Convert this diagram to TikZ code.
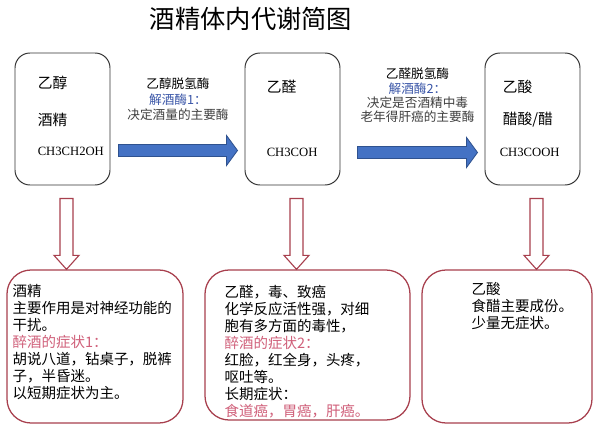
\documentclass[tikz,border=0pt]{standalone}
\usepackage{fontspec}
\setmainfont{Liberation Serif}
\newfontfamily\cjk{Noto Sans CJK SC}
\usepackage{xcolor}
\usetikzlibrary{calc}

\definecolor{arrowblue}{HTML}{4472C4}
\definecolor{arrowedge}{HTML}{2F528F}
\definecolor{enzymeblue}{HTML}{3A56A8}
\definecolor{boxred}{HTML}{A8404E}
\definecolor{warnred}{HTML}{D0607A}

% horizontal block arrow from #1 to tip #2
\newcommand{\hblockarrow}[2]{%
  \draw[blockarrow] ($(#1)+(0,-6)$) -- ($(#2)+(-11,-6)$) -- ($(#2)+(-11,-15)$) -- (#2)
    -- ($(#2)+(-11,15)$) -- ($(#2)+(-11,6)$) -- ($(#1)+(0,6)$) -- cycle;}
% hollow down arrow from #1 to tip #2
\newcommand{\vblockarrow}[2]{%
  \draw[hollowarrow] ($(#1)+(-6.5,0)$) -- ($(#2)+(-6.5,-14)$) -- ($(#2)+(-12.5,-14)$) -- (#2)
    -- ($(#2)+(12.5,-14)$) -- ($(#2)+(6.5,-14)$) -- ($(#1)+(6.5,0)$) -- cycle;}

\begin{document}
\begin{tikzpicture}[x=0.25mm, y=-0.25mm,
    topbox/.style={draw=black!80, line width=0.7pt, rounded corners=3.75mm,
      minimum width=23.75mm, minimum height=33mm, inner sep=0pt},
    effectbox/.style={draw=boxred, line width=0.9pt, rounded corners=6mm, inner sep=0pt},
    chem/.style={anchor=west, inner sep=0pt, font=\cjk\fontsize{10.5}{12}\selectfont},
    formula/.style={anchor=west, inner sep=0pt, font=\fontsize{9}{11}\selectfont},
    enzyme/.style={align=center, inner sep=0pt, text=black!75},
    bodytext/.style={align=left, anchor=north west, inner sep=0pt,
      font=\cjk\fontsize{10.3}{12}\selectfont},
    blockarrow/.style={fill=arrowblue, draw=arrowedge, line width=0.6pt},
    hollowarrow/.style={fill=white, draw=boxred, line width=0.8pt}]

    % Canvas
    \fill[white] (0,0) rectangle (600,433);
    \useasboundingbox (0,0) rectangle (600,433);

    % Title
    \node[font=\cjk\fontsize{18}{20}\selectfont] (title) at (251,19) {酒精体内代谢简图};

    % Substances
    \node[topbox] (t1) at (62.5,119) {};
    \node[topbox] (t2) at (292.5,119) {};
    \node[topbox] (t3) at (532.5,119) {};

    \node[chem] (t1a) at ($(t1.north west)+(23,30)$) {乙醇};
    \node[chem] (t1b) at ($(t1.north west)+(23,67)$) {酒精};
    \node[formula] (t1c) at ($(t1.north west)+(23,99)$) {CH3CH2OH};

    \node[chem] (t2a) at ($(t2.north west)+(22,34)$) {乙醛};
    \node[formula] (t2c) at ($(t2.north west)+(22,100)$) {CH3COH};

    \node[chem] (t3a) at ($(t3.north west)+(18,34)$) {乙酸};
    \node[chem] (t3b) at ($(t3.north west)+(18,67)$) {醋酸/醋};
    \node[formula] (t3c) at ($(t3.north west)+(15,100)$) {CH3COOH};

    % Enzyme arrows
    \coordinate (a1s) at ($(t1.south east)+(8,-35)$);
    \coordinate (a1e) at ($(t2.south west)+(-7,-35)$);
    \coordinate (a2s) at ($(t2.south east)+(17,-33)$);
    \coordinate (a2e) at ($(t3.south west)+(-7,-33)$);
    \hblockarrow{a1s}{a1e}
    \hblockarrow{a2s}{a2e}

    \node[enzyme, font=\cjk\fontsize{9}{11}\selectfont] (l1) at ($(a1s)!0.5!(a1e)+(0,-51)$)
      {\textcolor{black}{乙醇脱氢酶}\\\textcolor{enzymeblue}{解酒酶1：}\\决定酒量的主要酶};
    \node[enzyme, font=\cjk\fontsize{9}{10.2}\selectfont] (l2) at ($(a2s)!0.5!(a2e)+(0,-57)$)
      {\textcolor{black}{乙醛脱氢酶}\\\textcolor{enzymeblue}{解酒酶2：}\\决定是否酒精中毒\\老年得肝癌的主要酶};

    % Effects
    \node[effectbox, minimum width=44mm, minimum height=38.25mm] (b1) at (95,346.5) {};
    \node[effectbox, minimum width=51.25mm, minimum height=37.5mm] (b2) at (307.5,345) {};
    \node[effectbox, minimum width=42.5mm, minimum height=38.25mm] (b3) at (507,346.5) {};

    \node[bodytext] (b1txt) at ($(b1.north west)+(6,15)$)
      {酒精\\主要作用是对神经功能的\\干扰。\\\textcolor{warnred}{醉酒的症状1：}\\胡说八道，钻桌子，脱裤\\子，半昏迷。\\以短期症状为主。};
    \node[bodytext] (b2txt) at ($(b2.north west)+(20,16)$)
      {乙醛，毒、致癌\\化学反应活性强，对细\\胞有多方面的毒性，\\\textcolor{warnred}{醉酒的症状2：}\\红脸，红全身，头疼，\\呕吐等。\\长期症状：\\\textcolor{warnred}{食道癌，胃癌，肝癌。}};
    \node[bodytext] (b3txt) at ($(b3.north west)+(50,13)$)
      {乙酸\\食醋主要成份。\\少量无症状。};

    % Down arrows
    \foreach \i in {1,2,3} {
        \coordinate (d\i s) at ($(t\i.south)+(4,13)$);
        \coordinate (d\i e) at ($(t\i.south |- b\i.north)+(4,0)$);
        \vblockarrow{d\i s}{d\i e}
    }

\end{tikzpicture}
\end{document}
